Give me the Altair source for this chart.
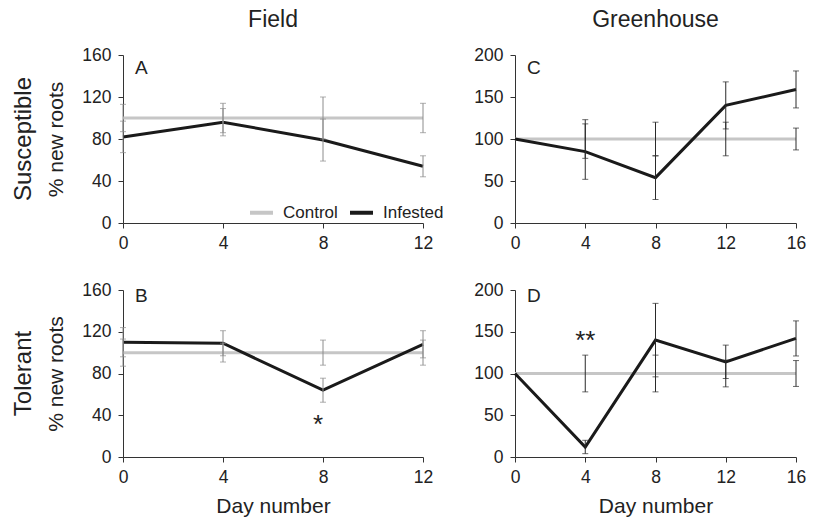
import altair as alt
import pandas as pd

# ---------------- data ----------------
days_field = [0, 4, 8, 12]
days_gh = [0, 4, 8, 12, 16]

a_control = [100, 100, 100, 100]
a_control_err = [13, 14, 20, 14]
a_infested = [82, 96, 79, 54]
a_infested_err = [15, 13, 20, 10]

b_control = [100, 100, 100, 100]
b_control_err = [13, 9, 12, 12]
b_infested = [110, 109, 64, 108]
b_infested_err = [14, 12, 11.5, 13]

c_control = [100, 100, 100, 100, 100]
c_control_err = [0, 23, 20, 20, 13]
c_infested = [100, 85, 54, 140, 159]
c_infested_err = [0, 33, 26, 28, 22]

d_control = [100, 100, 100, 100, 100]
d_control_err = [0, 22, 22, 16, 15.5]
d_infested = [100, 12, 140, 114, 142]
d_infested_err = [0, 8, 44, 20, 21]

series_names = ["Control", "Infested"]
series_colors = ["#c6c6c6", "#1a1a1a"]

field_ticks = [0, 40, 80, 120, 160]
gh_ticks = [0, 50, 100, 150, 200]

col_titles = ["Field", "Greenhouse"]
row_titles = ["Susceptible", "Tolerant"]
panel_letters = ["A", "C", "B", "D"]

star_b_day, star_b_val, star_b_text = [7.8], [31], ["*"]
star_d_day, star_d_val, star_d_text = [4], [139], ["**"]

FONT = "Liberation Sans"
TXT = "#222222"


def build_df(days, ctrl, ctrl_err, inf, inf_err):
    rows = []
    for name, vals, errs in [("Control", ctrl, ctrl_err), ("Infested", inf, inf_err)]:
        for d, v, e in zip(days, vals, errs):
            rows.append({"day": d, "value": v, "err": e, "lo": v - e, "hi": v + e, "series": name})
    return pd.DataFrame(rows)


def panel(df, days, yticks, width, height, letter, letter_y, err_color,
          col_title=None, row_title=None, x_title=False, legend=None, stars=None):
    xscale = alt.Scale(domain=[0, max(days)], nice=False, zero=False)
    yscale = alt.Scale(domain=[0, max(yticks)], nice=False)
    xaxis = alt.Axis(values=days, title="Day number" if x_title else None, format="d")
    yaxis = alt.Axis(values=yticks, title="% new roots" if row_title else None, format="d")

    base = alt.Chart(df)
    lines = base.mark_line(strokeWidth=3).encode(
        x=alt.X("day:Q", scale=xscale, axis=xaxis),
        y=alt.Y("value:Q", scale=yscale, axis=yaxis),
        color=alt.Color("series:N",
                        scale=alt.Scale(domain=series_names, range=series_colors),
                        legend=legend),
    )
    bars = base.transform_filter("datum.err > 0").mark_errorbar(
        ticks=True, size=6, thickness=1, color=err_color
    ).encode(
        x=alt.X("day:Q", scale=xscale, axis=xaxis),
        y=alt.Y("lo:Q", scale=yscale, axis=yaxis),
        y2="hi:Q",
    )
    layers = [lines, bars]

    letter_mark = alt.Chart(pd.DataFrame({"t": [letter]})).mark_text(
        align="left", baseline="middle", fontSize=19, font=FONT, color=TXT
    ).encode(x=alt.value(12), y=alt.value(letter_y), text="t:N")
    layers.append(letter_mark)

    if col_title:
        ct = alt.Chart(pd.DataFrame({"t": [col_title]})).mark_text(
            align="center", baseline="middle", fontSize=23, font=FONT, color=TXT
        ).encode(x=alt.value(width / 2), y=alt.value(-35), text="t:N")
        layers.append(ct)

    if row_title:
        rt = alt.Chart(pd.DataFrame({"t": [row_title]})).mark_text(
            align="center", baseline="middle", angle=270, fontSize=24, font=FONT, color=TXT
        ).encode(x=alt.value(-99), y=alt.value(height / 2), text="t:N")
        layers.append(rt)

    if stars is not None:
        sd, sv, st = stars
        star = alt.Chart(pd.DataFrame({"day": sd, "value": sv, "t": st})).mark_text(
            align="center", baseline="middle", fontSize=26, font=FONT, color=TXT
        ).encode(
            x=alt.X("day:Q", scale=xscale, axis=xaxis),
            y=alt.Y("value:Q", scale=yscale, axis=yaxis),
            text="t:N",
        )
        layers.append(star)

    return alt.layer(*layers).properties(width=width, height=height)


legend_a = alt.Legend(orient="none", legendX=125, legendY=144, direction="horizontal", title=None,
                      symbolType="stroke", symbolStrokeWidth=4, symbolSize=529,
                      labelFontSize=17, labelFont=FONT, labelColor=TXT, labelOffset=8,
                      columnPadding=4, padding=0)

pA = panel(build_df(days_field, a_control, a_control_err, a_infested, a_infested_err),
           days_field, field_ticks, 300, 168, panel_letters[0], 12.8, "#8c8c8c",
           col_title=col_titles[0], row_title=row_titles[0], legend=legend_a)
pC = panel(build_df(days_gh, c_control, c_control_err, c_infested, c_infested_err),
           days_gh, gh_ticks, 281, 168, panel_letters[1], 12.8, "#2a2a2a",
           col_title=col_titles[1])
pB = panel(build_df(days_field, b_control, b_control_err, b_infested, b_infested_err),
           days_field, field_ticks, 300, 167, panel_letters[2], 6.3, "#8c8c8c",
           row_title=row_titles[1], x_title=True, stars=(star_b_day, star_b_val, star_b_text))
pD = panel(build_df(days_gh, d_control, d_control_err, d_infested, d_infested_err),
           days_gh, gh_ticks, 281, 167, panel_letters[3], 6.3, "#2a2a2a",
           x_title=True, stars=(star_d_day, star_d_val, star_d_text))

chart = alt.concat(pA, pC, pB, pD, columns=2, spacing={"row": 67, "column": 92},
                   bounds="flush").properties(
    padding={"left": 12, "top": 9, "right": 5, "bottom": 2},
    background="white",
).configure_view(stroke=None).configure_axis(
    grid=False, domainColor="#333333", tickColor="#333333", domainWidth=1, tickWidth=1,
    tickSize=5, labelFont=FONT, labelFontSize=17.5, labelColor=TXT,
    titleFont=FONT, titleFontSize=21, titleFontWeight="normal", titleColor=TXT,
).configure_axisX(labelPadding=6, titlePadding=10, labelFlush=False
).configure_axisY(labelPadding=7, titlePadding=15)

chart.save("out.html", embed_options={"renderer": "svg", "actions": False})
